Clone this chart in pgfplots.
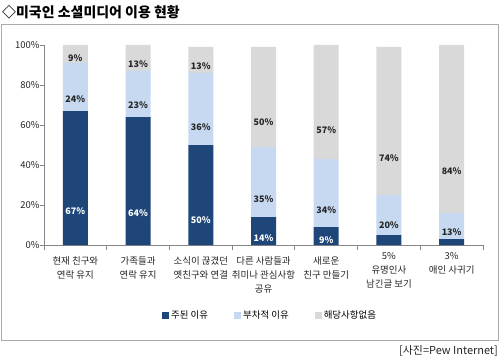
\documentclass[border=0pt]{standalone}
\usepackage{pgfplots}
\pgfplotsset{compat=1.18}
\usepackage{fontspec}
\setmainfont{Noto Sans CJK KR}
\definecolor{cMain}{HTML}{1F4679}
\definecolor{cSub}{HTML}{C6D9F1}
\definecolor{cNone}{HTML}{D9D9D9}
\definecolor{cAxis}{HTML}{868686}
\definecolor{cText}{HTML}{262626}
\definecolor{cBox}{HTML}{AAAAAA}
\begin{document}
\begin{tikzpicture}[x=1bp,y=1bp]
\useasboundingbox (0,0) rectangle (500,360);
\fill[white] (0,0) rectangle (500,360);
\draw[cBox, line width=1bp] (1.5,20) rectangle (498.5,335.5);
\node[anchor=west, inner sep=0pt, font=\fontsize{14}{16}\selectfont\bfseries] at (2,348) {◇미국인 소셜미디어 이용 현황};
\node[anchor=east, inner sep=0pt, font=\fontsize{11}{13}\selectfont, text=cText] at (498,9) {[사진=Pew Internet]};
\begin{axis}[
  at={(44bp,115bp)}, anchor=south west,
  scale only axis, width=439bp, height=200bp,
  ybar stacked, bar width=25bp,
  xmin=-0.5, xmax=6.5, ymin=0, ymax=100,
  axis lines*=left,
  axis line style={cAxis, line width=0.8bp},
  major tick length=0pt, minor tick length=4.5bp,
  tick align=outside,
  every tick/.style={cAxis, line width=0.8bp},
  ytick={0,20,...,100},
  minor ytick={0,20,...,100},
  yticklabel={\pgfmathprintnumber{\tick}\%},
  /pgf/number format/assume math mode=true,
  minor xtick={-0.5,0.5,...,6.5},
  xtick={0,1,2,3,4},
  xticklabels={{현재 친구와\\연락 유지},{가족들과\\연락 유지},{소식이 끊겼던\\옛친구와 연결},{다른 사람들과\\취미나 관심사항\\공유},{새로운\\친구 만들기}},
  extra x ticks={5,6},
  extra x tick labels={{5\%\\유명인사\\남긴글 보기},{3\%\\애인 사귀기}},
  extra x tick style={major tick length=0pt, tick label style={yshift=4bp}},
  tick label style={font=\fontsize{9.5}{14}\selectfont, text=cText},
  xticklabel style={align=center, yshift=-8bp},
  yticklabel style={xshift=-1bp},
  legend style={at={(0.515,-0.35)}, anchor=center, draw=none, fill=none,
    legend columns=3, font=\fontsize{9.5}{11}\selectfont,
    /tikz/every even column/.append style={column sep=24bp}},
  legend image code/.code={\fill[#1] (0bp,-3.5bp) rectangle (7bp,3.5bp);},
  visualization depends on={rawy \as \ry},
  nodes near coords,
  point meta=explicit symbolic,
  every node near coord/.append style={anchor=center, yshift={-0.5*\ry bp}, font=\fontsize{9}{11}\selectfont\bfseries},
]
\addplot[fill=cMain, draw=none, every node near coord/.append style={text=white}] coordinates {
(0,67)[67\%] (1,64)[64\%] (2,50)[50\%] (3,14)[14\%] (4,9)[9\%] (5,5)[] (6,3)[]};
\addplot[fill=cSub, draw=none, every node near coord/.append style={text=cText}] coordinates {
(0,24)[24\%] (1,23)[23\%] (2,36)[36\%] (3,35)[35\%] (4,34)[34\%] (5,20)[20\%] (6,13)[13\%]};
\addplot[fill=cNone, draw=none, every node near coord/.append style={text=cText}] coordinates {
(0,9)[9\%] (1,13)[13\%] (2,13)[13\%] (3,50)[50\%] (4,57)[57\%] (5,74)[74\%] (6,84)[84\%]};
\legend{주된 이유, 부차적 이유, 해당사항없음}
\end{axis}
\end{tikzpicture}
\end{document}
